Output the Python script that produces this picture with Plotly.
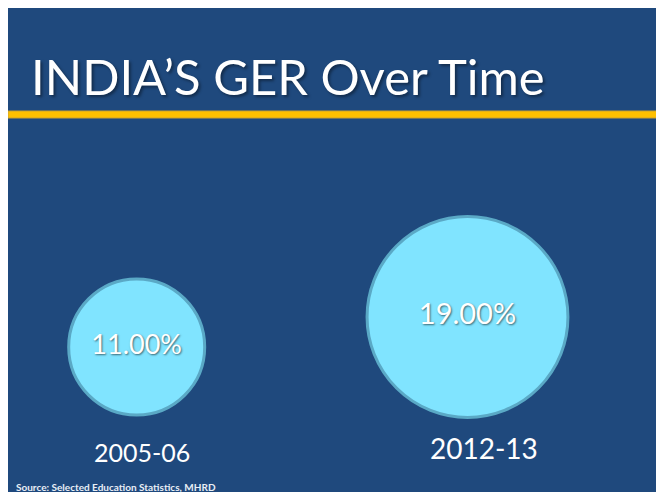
import plotly.graph_objects as go

# data
years = ["2005-06", "2012-13"]
ger = [11.0, 19.0]  # gross enrolment ratio, %
bubble_size = [11, 24]  # bubble-size series (area scaled)

title = "INDIA\u2019S GER Over Time"
source = "Source: Selected Education Statistics, MHRD"

# the page body adds an 8px white margin, which is the slide's white border
W, H = 656, 484
BLUE = "#1F497D"
FONT = "Lato"

fig = go.Figure(
    go.Scatter(
        x=years,
        y=ger,
        mode="markers+text",
        marker=dict(
            size=bubble_size,
            sizemode="area",
            sizeref=0.0011895,
            color="#80E4FF",
            opacity=1,
            line=dict(color="#5AA9C6", width=3),
        ),
        texttemplate="%{y:.2f}%",
        textposition="middle center",
        textfont=dict(
            family=FONT, size=[27, 29], color="white",
            shadow="1px 1px 2px rgba(0,0,0,0.55)",
        ),
        hoverinfo="skip",
    )
)

# gold rule under the title
fig.add_shape(type="rect", xref="paper", yref="paper",
              x0=0, x1=1, y0=1 - 110 / H, y1=1 - 103 / H,
              fillcolor="#FFC000", line=dict(color="#C9A233", width=1), layer="below")

fig.add_annotation(text=title, xref="paper", yref="paper", x=21 / W, y=1 - 68 / H,
                   xanchor="left", yanchor="middle", showarrow=False,
                   font=dict(family=FONT, size=49, color="white",
                             shadow="2px 2px 3px rgba(0,0,0,0.4)"))

for yr, shift, ypx, fs in zip(years, [5, 16], [444, 440], [25, 28]):
    fig.add_annotation(text=yr, x=yr, xref="x", yref="paper", y=1 - ypx / H,
                       xshift=shift, yanchor="middle", showarrow=False,
                       font=dict(family=FONT, size=fs, color="white"))

fig.add_annotation(text="<b>" + source + "</b>", xref="paper", yref="paper",
                   x=6 / W, y=1 - 479 / H, xanchor="left", yanchor="middle",
                   showarrow=False, font=dict(family=FONT, size=10, color="#E8EEF6"))

fig.update_layout(
    width=W, height=H,
    margin=dict(l=0, r=0, t=0, b=0),
    paper_bgcolor=BLUE,
    plot_bgcolor="rgba(0,0,0,0)",
    showlegend=False,
    xaxis=dict(type="category", range=[-0.389, 1.594], visible=False, fixedrange=True),
    yaxis=dict(range=[-27.67, 101.4], visible=False, fixedrange=True),
)

fig.write_html("out.html")
